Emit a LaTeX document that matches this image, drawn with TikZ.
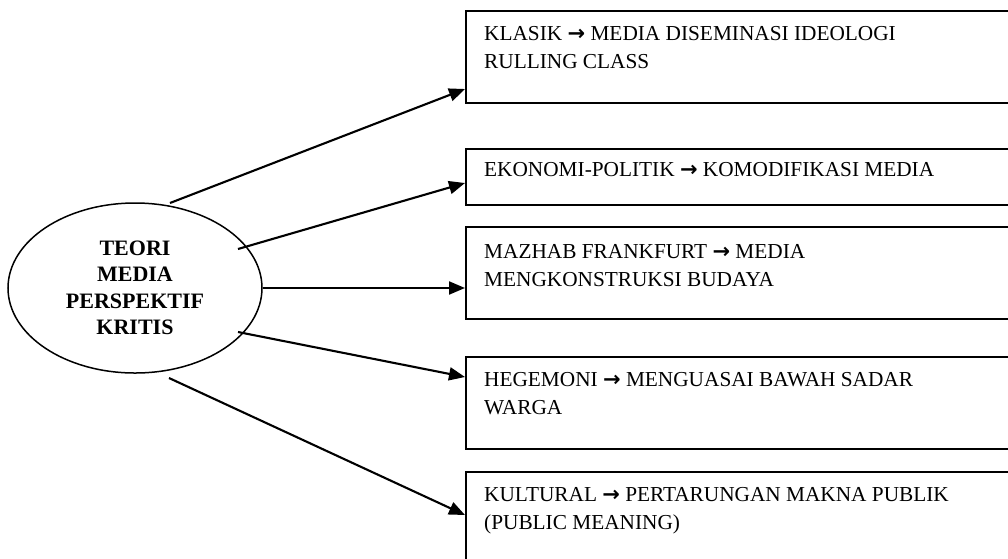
\documentclass[tikz,border=0pt]{standalone}
\usepackage{fontspec}
\setmainfont{Liberation Serif}
\newfontfamily\arrowfont{DejaVu Sans}[BoldFont={DejaVu Sans Bold}]
\usetikzlibrary{shapes.geometric,arrows.meta,calc}
\newcommand{\rarr}{{\arrowfont\bfseries\fontsize{21pt}{28pt}\selectfont →}}
\tikzset{
  boxnode/.style={draw, line width=1.7pt, rectangle, anchor=north west, minimum width=620pt, inner sep=0pt},
  boxtext/.style={anchor=north west, inner sep=0pt, align=left, font=\fontsize{21.3pt}{28pt}\selectfont},
  conn/.style={line width=2.1pt, -{Triangle[length=16pt,width=13pt]}},
  centre/.style={draw, ellipse, line width=1.5pt, minimum width=254pt, minimum height=170pt, inner sep=0pt, align=center, font=\bfseries\fontsize{22pt}{26.5pt}\selectfont}
}
\begin{document}
\begin{tikzpicture}[x=1pt,y=-1pt]
\useasboundingbox (0,0) rectangle (1008,558);
\clip (0,0) rectangle (1008,558);
\node[centre] (e) at (135,288) {TEORI\\MEDIA\\PERSPEKTIF\\KRITIS};
\node[boxnode, minimum height=92pt] (b1) at (465,10) {};
\node[boxnode, minimum height=56pt] (b2) at (465,148) {};
\node[boxnode, minimum height=92pt] (b3) at (465,226) {};
\node[boxnode, minimum height=92pt] (b4) at (465,356) {};
\node[boxnode, minimum height=120pt] (b5) at (465,471) {};
\node[boxtext] (t1) at ($(b1.north west)+(19,16)$) {KLASIK \rarr\ MEDIA DISEMINASI IDEOLOGI\\RULLING CLASS};
\node[boxtext] (t2) at ($(b2.north west)+(19,14)$) {EKONOMI-POLITIK \rarr\ KOMODIFIKASI MEDIA};
\node[boxtext] (t3) at ($(b3.north west)+(19,18)$) {MAZHAB FRANKFURT \rarr\ MEDIA\\MENGKONSTRUKSI BUDAYA};
\node[boxtext] (t4) at ($(b4.north west)+(19,16)$) {HEGEMONI \rarr\ MENGUASAI BAWAH SADAR\\WARGA};
\node[boxtext] (t5) at ($(b5.north west)+(19,16)$) {KULTURAL \rarr\ PERTARUNGAN MAKNA PUBLIK\\(PUBLIC MEANING)};
\draw[conn] ($(e.center)+(35,-85)$) -- ($(b1.north west)+(0,79)$);
\draw[conn] ($(e.center)+(103,-39)$) -- ($(b2.north west)+(0,35)$);
\draw[conn] (e.east) -- (e.east -| b3.west);
\draw[conn] ($(e.center)+(103,44)$) -- ($(b4.north west)+(0,21)$);
\draw[conn] ($(e.center)+(34,90)$) -- ($(b5.north west)+(0,44)$);
\end{tikzpicture}
\end{document}
